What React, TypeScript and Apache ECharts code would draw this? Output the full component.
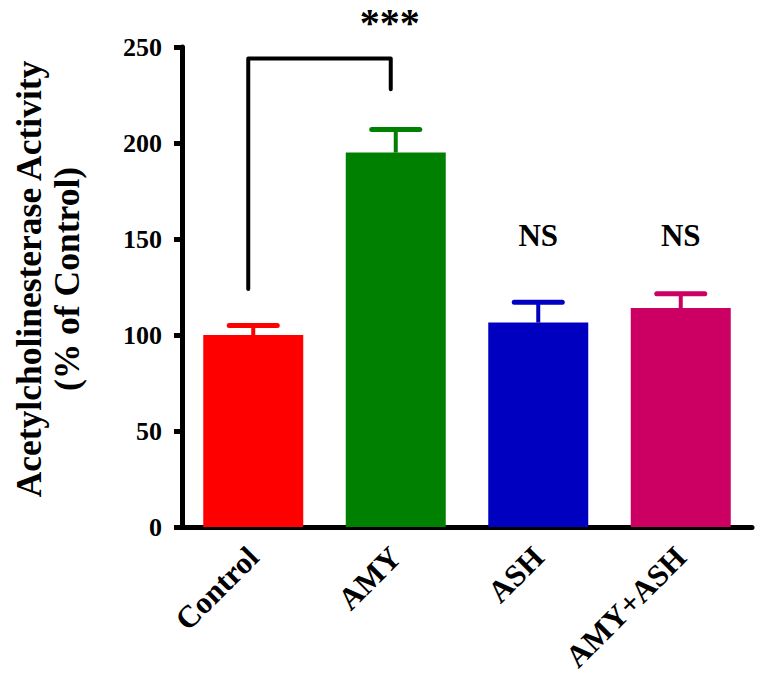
import React, { useEffect, useRef } from "react";
import * as echarts from "echarts";

const categories = ["Control", "AMY", "ASH", "AMY+ASH"];
const means = [100, 195, 106.5, 114];
const errUpper = [105, 207, 117, 121.5];
const barColors = ["#FF0000", "#008000", "#0000C0", "#CC0062"];
const sigLabels = ["", "", "NS", "NS"];
const sigLabelValue = 152;
const yTicks = [0, 50, 100, 150, 200, 250];
const bracket = { from: 0, to: 1, top: 244, leftEnd: 124, rightEnd: 228, label: "***", labelValue: 273 };

const FONT = "'Liberation Serif', 'Times New Roman', serif";

export default function App() {
  const ref = useRef<HTMLDivElement>(null);
  useEffect(() => {
    document.body.style.margin = "0";
    const chart = echarts.init(ref.current!, null, { renderer: "svg" });
    chart.setOption({
      animation: false,
      grid: { left: 182, top: 47, width: 570, height: 480 },
      xAxis: {
        type: "category",
        data: categories,
        axisLine: { lineStyle: { color: "#000", width: 5, cap: "round" } },
        axisTick: { alignWithLabel: true, length: 8, lineStyle: { color: "#000", width: 5 } },
        axisLabel: {
          rotate: 45,
          margin: 25,
          color: "#000",
          fontFamily: FONT,
          fontWeight: "bold",
          fontSize: 31,
          interval: 0,
        },
      },
      yAxis: {
        type: "value",
        min: yTicks[0],
        max: yTicks[yTicks.length - 1],
        interval: 50,
        splitLine: { show: false },
        axisLine: { show: true, lineStyle: { color: "#000", width: 5, cap: "round" } },
        axisTick: { show: true, length: 8, lineStyle: { color: "#000", width: 5 } },
        axisLabel: { color: "#000", fontFamily: FONT, fontWeight: "bold", fontSize: 26, margin: 20 },
        name: "Acetylcholinesterase Activity\n(% of Control)",
        nameLocation: "middle",
        nameRotate: 90,
        nameGap: 96,
        nameTextStyle: {
          color: "#000",
          fontFamily: FONT,
          fontWeight: "bold",
          fontSize: 35.5,
          lineHeight: 38,
          padding: [0, 0, 0, 16],
        },
      },
      series: [
        {
          type: "bar",
          barWidth: 100,
          data: means.map((v, i) => ({ value: v, itemStyle: { color: barColors[i] } })),
        },
        {
          type: "custom",
          clip: false,
          data: categories.map((_, i) => [i, means[i], errUpper[i]]),
          renderItem: (params: any, api: any) => {
            const i = api.value(0);
            const base = api.coord([i, api.value(1)]);
            const top = api.coord([i, api.value(2)]);
            const color = barColors[params.dataIndex];
            const children: any[] = [
              { type: "line", shape: { x1: base[0], y1: base[1], x2: top[0], y2: top[1] }, style: { stroke: color, lineWidth: 4 } },
              { type: "line", shape: { x1: top[0] - 24, y1: top[1], x2: top[0] + 24, y2: top[1] }, style: { stroke: color, lineWidth: 5, lineCap: "round" } },
            ];
            const lab = sigLabels[params.dataIndex];
            if (lab) {
              const p = api.coord([i, sigLabelValue]);
              children.push({
                type: "text",
                x: p[0],
                y: p[1],
                style: { text: lab, fill: "#000", font: `bold 31px ${FONT}`, textAlign: "center", textVerticalAlign: "middle" },
              });
            }
            return { type: "group", children };
          },
        },
        {
          type: "custom",
          clip: false,
          data: [[bracket.from, bracket.to, bracket.top, bracket.leftEnd, bracket.rightEnd]],
          renderItem: (_params: any, api: any) => {
            const off = -5;
            const a = api.coord([api.value(0), api.value(2)]);
            const b = api.coord([api.value(1), api.value(2)]);
            const aEnd = api.coord([api.value(0), api.value(3)]);
            const bEnd = api.coord([api.value(1), api.value(4)]);
            const lab = api.coord([(api.value(0) + api.value(1)) / 2, bracket.labelValue]);
            const st = { stroke: "#000", lineWidth: 4, lineJoin: "round", lineCap: "round", fill: null };
            return {
              type: "group",
              children: [
                {
                  type: "polyline",
                  shape: { points: [[aEnd[0] + off, aEnd[1]], [a[0] + off, a[1]], [b[0] + off, b[1]], [bEnd[0] + off, bEnd[1]]] },
                  style: st,
                },
                {
                  type: "text",
                  x: lab[0] - 6,
                  y: lab[1],
                  style: { text: bracket.label, fill: "#000", font: `bold 40px ${FONT}`, textAlign: "center", textVerticalAlign: "top" },
                },
              ],
            };
          },
        },
      ],
    });
    return () => chart.dispose();
  }, []);
  return <div ref={ref} style={{ width: 767, height: 686 }} />;
}
